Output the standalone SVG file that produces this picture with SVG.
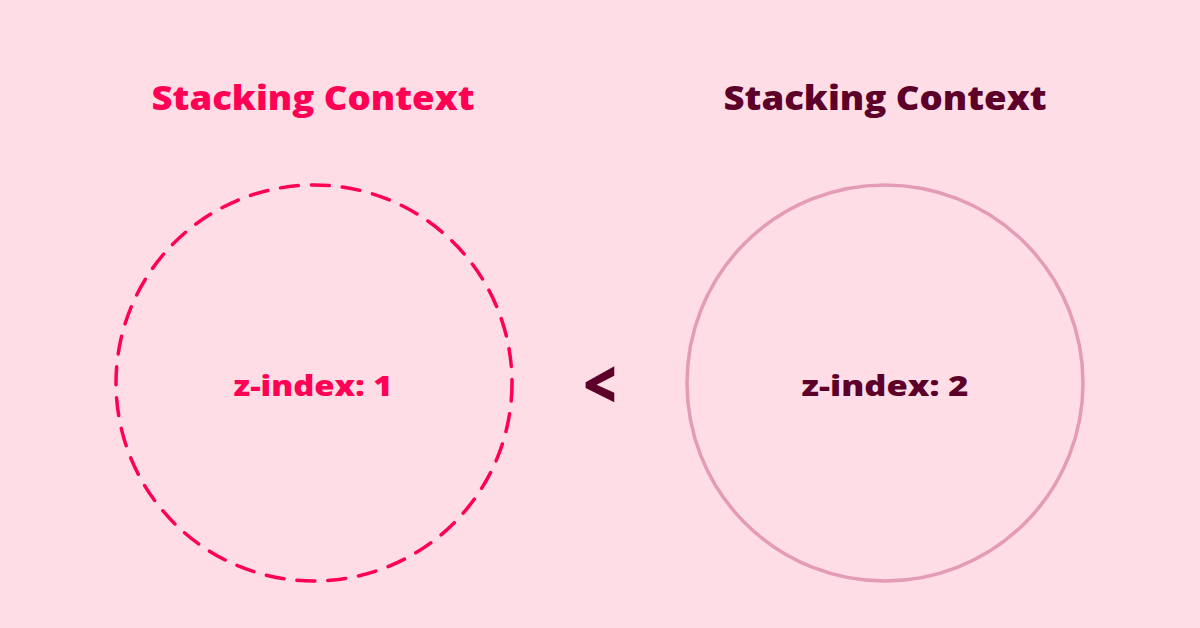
<svg xmlns="http://www.w3.org/2000/svg" width="1200" height="628" viewBox="0 0 1200 628">
<style>
.t{font-family:"Open Sans","Liberation Sans",sans-serif;font-weight:800;text-anchor:middle}
.pink{fill:#FF0055}
.dark{fill:#5C0029}
</style>
<rect width="1200" height="628" fill="#FFDDE7"/>
<g id="context1">
<text class="t pink" x="313" y="110" font-size="34" textLength="323" lengthAdjust="spacingAndGlyphs">Stacking Context</text>
<circle cx="314" cy="383" r="198" fill="none" stroke="#FF0055" stroke-width="3.5" stroke-dasharray="18 13" stroke-linecap="round"/>
<text class="t pink" x="313" y="396" font-size="28" textLength="159" lengthAdjust="spacingAndGlyphs">z-index: 1</text>
</g>
<g id="compare">
<text class="t dark" x="600" y="408" font-size="66" textLength="34" lengthAdjust="spacingAndGlyphs">&lt;</text>
</g>
<g id="context2">
<text class="t dark" x="885" y="110" font-size="34" textLength="323" lengthAdjust="spacingAndGlyphs">Stacking Context</text>
<circle cx="885" cy="383" r="198" fill="none" stroke="#E39BB6" stroke-width="3.5"/>
<text class="t dark" x="885" y="396" font-size="28" textLength="167" lengthAdjust="spacingAndGlyphs">z-index: 2</text>
</g>
<g id="connectors"/>
</svg>
